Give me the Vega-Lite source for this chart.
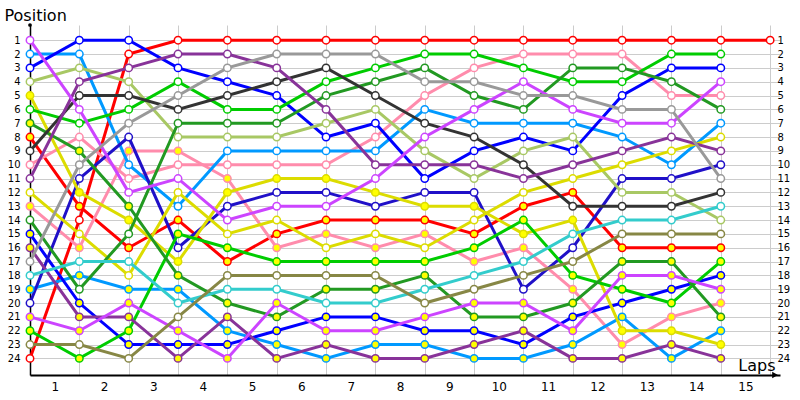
{
  "$schema": "https://vega.github.io/schema/vega-lite/v6.json",
  "width": 750,
  "height": 350,
  "autosize": {"type": "none"},
  "padding": {"left": 30, "top": 25, "right": 20, "bottom": 25},
  "background": "white",
  "config": {
    "view": {"stroke": null},
    "axis": {"labelFont": "DejaVu Sans", "titleFont": "DejaVu Sans", "labelColor": "black", "titleColor": "black", "titleFontWeight": "normal"}
  },
  "data": {
    "values": [
      {"driver":"red_w","lap":0,"pos":24},{"driver":"red_w","lap":1,"pos":14},{"driver":"red_w","lap":2,"pos":2},{"driver":"red_w","lap":3,"pos":1},{"driver":"red_w","lap":4,"pos":1},{"driver":"red_w","lap":5,"pos":1},{"driver":"red_w","lap":6,"pos":1},{"driver":"red_w","lap":7,"pos":1},{"driver":"red_w","lap":8,"pos":1},{"driver":"red_w","lap":9,"pos":1},{"driver":"red_w","lap":10,"pos":1},{"driver":"red_w","lap":11,"pos":1},{"driver":"red_w","lap":12,"pos":1},{"driver":"red_w","lap":13,"pos":1},{"driver":"red_w","lap":14,"pos":1},{"driver":"red_w","lap":15,"pos":1},
      {"driver":"red_y","lap":0,"pos":8},{"driver":"red_y","lap":1,"pos":13},{"driver":"red_y","lap":2,"pos":16},{"driver":"red_y","lap":3,"pos":14},{"driver":"red_y","lap":4,"pos":17},{"driver":"red_y","lap":5,"pos":15},{"driver":"red_y","lap":6,"pos":14},{"driver":"red_y","lap":7,"pos":14},{"driver":"red_y","lap":8,"pos":14},{"driver":"red_y","lap":9,"pos":15},{"driver":"red_y","lap":10,"pos":13},{"driver":"red_y","lap":11,"pos":12},{"driver":"red_y","lap":12,"pos":16},{"driver":"red_y","lap":13,"pos":16},{"driver":"red_y","lap":14,"pos":16},
      {"driver":"pink_w","lap":0,"pos":10},{"driver":"pink_w","lap":1,"pos":8},{"driver":"pink_w","lap":2,"pos":11},{"driver":"pink_w","lap":3,"pos":10},{"driver":"pink_w","lap":4,"pos":10},{"driver":"pink_w","lap":5,"pos":10},{"driver":"pink_w","lap":6,"pos":10},{"driver":"pink_w","lap":7,"pos":8},{"driver":"pink_w","lap":8,"pos":5},{"driver":"pink_w","lap":9,"pos":3},{"driver":"pink_w","lap":10,"pos":2},{"driver":"pink_w","lap":11,"pos":2},{"driver":"pink_w","lap":12,"pos":2},{"driver":"pink_w","lap":13,"pos":5},{"driver":"pink_w","lap":14,"pos":5},
      {"driver":"pink_y","lap":0,"pos":13},{"driver":"pink_y","lap":1,"pos":16},{"driver":"pink_y","lap":2,"pos":9},{"driver":"pink_y","lap":3,"pos":9},{"driver":"pink_y","lap":4,"pos":11},{"driver":"pink_y","lap":5,"pos":16},{"driver":"pink_y","lap":6,"pos":15},{"driver":"pink_y","lap":7,"pos":16},{"driver":"pink_y","lap":8,"pos":15},{"driver":"pink_y","lap":9,"pos":17},{"driver":"pink_y","lap":10,"pos":16},{"driver":"pink_y","lap":11,"pos":19},{"driver":"pink_y","lap":12,"pos":23},{"driver":"pink_y","lap":13,"pos":21},{"driver":"pink_y","lap":14,"pos":20},
      {"driver":"ltblue_w","lap":0,"pos":2},{"driver":"ltblue_w","lap":1,"pos":2},{"driver":"ltblue_w","lap":2,"pos":10},{"driver":"ltblue_w","lap":3,"pos":13},{"driver":"ltblue_w","lap":4,"pos":9},{"driver":"ltblue_w","lap":5,"pos":9},{"driver":"ltblue_w","lap":6,"pos":9},{"driver":"ltblue_w","lap":7,"pos":9},{"driver":"ltblue_w","lap":8,"pos":6},{"driver":"ltblue_w","lap":9,"pos":7},{"driver":"ltblue_w","lap":10,"pos":7},{"driver":"ltblue_w","lap":11,"pos":7},{"driver":"ltblue_w","lap":12,"pos":8},{"driver":"ltblue_w","lap":13,"pos":10},{"driver":"ltblue_w","lap":14,"pos":7},
      {"driver":"ltblue_y","lap":0,"pos":19},{"driver":"ltblue_y","lap":1,"pos":18},{"driver":"ltblue_y","lap":2,"pos":19},{"driver":"ltblue_y","lap":3,"pos":19},{"driver":"ltblue_y","lap":4,"pos":22},{"driver":"ltblue_y","lap":5,"pos":23},{"driver":"ltblue_y","lap":6,"pos":24},{"driver":"ltblue_y","lap":7,"pos":23},{"driver":"ltblue_y","lap":8,"pos":23},{"driver":"ltblue_y","lap":9,"pos":24},{"driver":"ltblue_y","lap":10,"pos":24},{"driver":"ltblue_y","lap":11,"pos":23},{"driver":"ltblue_y","lap":12,"pos":21},{"driver":"ltblue_y","lap":13,"pos":24},{"driver":"ltblue_y","lap":14,"pos":22},
      {"driver":"blue_w","lap":0,"pos":3},{"driver":"blue_w","lap":1,"pos":1},{"driver":"blue_w","lap":2,"pos":1},{"driver":"blue_w","lap":3,"pos":3},{"driver":"blue_w","lap":4,"pos":4},{"driver":"blue_w","lap":5,"pos":5},{"driver":"blue_w","lap":6,"pos":8},{"driver":"blue_w","lap":7,"pos":7},{"driver":"blue_w","lap":8,"pos":11},{"driver":"blue_w","lap":9,"pos":9},{"driver":"blue_w","lap":10,"pos":8},{"driver":"blue_w","lap":11,"pos":9},{"driver":"blue_w","lap":12,"pos":5},{"driver":"blue_w","lap":13,"pos":3},{"driver":"blue_w","lap":14,"pos":3},
      {"driver":"blue_y","lap":0,"pos":15},{"driver":"blue_y","lap":1,"pos":20},{"driver":"blue_y","lap":2,"pos":23},{"driver":"blue_y","lap":3,"pos":23},{"driver":"blue_y","lap":4,"pos":23},{"driver":"blue_y","lap":5,"pos":22},{"driver":"blue_y","lap":6,"pos":21},{"driver":"blue_y","lap":7,"pos":21},{"driver":"blue_y","lap":8,"pos":22},{"driver":"blue_y","lap":9,"pos":22},{"driver":"blue_y","lap":10,"pos":23},{"driver":"blue_y","lap":11,"pos":21},{"driver":"blue_y","lap":12,"pos":20},{"driver":"blue_y","lap":13,"pos":19},{"driver":"blue_y","lap":14,"pos":18},
      {"driver":"indigo","lap":0,"pos":20},{"driver":"indigo","lap":1,"pos":11},{"driver":"indigo","lap":2,"pos":8},{"driver":"indigo","lap":3,"pos":16},{"driver":"indigo","lap":4,"pos":13},{"driver":"indigo","lap":5,"pos":12},{"driver":"indigo","lap":6,"pos":12},{"driver":"indigo","lap":7,"pos":13},{"driver":"indigo","lap":8,"pos":12},{"driver":"indigo","lap":9,"pos":12},{"driver":"indigo","lap":10,"pos":19},{"driver":"indigo","lap":11,"pos":16},{"driver":"indigo","lap":12,"pos":11},{"driver":"indigo","lap":13,"pos":11},{"driver":"indigo","lap":14,"pos":10},
      {"driver":"ltgreen","lap":0,"pos":4},{"driver":"ltgreen","lap":1,"pos":3},{"driver":"ltgreen","lap":2,"pos":4},{"driver":"ltgreen","lap":3,"pos":8},{"driver":"ltgreen","lap":4,"pos":8},{"driver":"ltgreen","lap":5,"pos":8},{"driver":"ltgreen","lap":6,"pos":7},{"driver":"ltgreen","lap":7,"pos":6},{"driver":"ltgreen","lap":8,"pos":9},{"driver":"ltgreen","lap":9,"pos":11},{"driver":"ltgreen","lap":10,"pos":9},{"driver":"ltgreen","lap":11,"pos":8},{"driver":"ltgreen","lap":12,"pos":12},{"driver":"ltgreen","lap":13,"pos":12},{"driver":"ltgreen","lap":14,"pos":14},
      {"driver":"yellow_y","lap":0,"pos":5},{"driver":"yellow_y","lap":1,"pos":12},{"driver":"yellow_y","lap":2,"pos":14},{"driver":"yellow_y","lap":3,"pos":17},{"driver":"yellow_y","lap":4,"pos":12},{"driver":"yellow_y","lap":5,"pos":11},{"driver":"yellow_y","lap":6,"pos":11},{"driver":"yellow_y","lap":7,"pos":12},{"driver":"yellow_y","lap":8,"pos":13},{"driver":"yellow_y","lap":9,"pos":13},{"driver":"yellow_y","lap":10,"pos":15},{"driver":"yellow_y","lap":11,"pos":14},{"driver":"yellow_y","lap":12,"pos":22},{"driver":"yellow_y","lap":13,"pos":22},{"driver":"yellow_y","lap":14,"pos":23},
      {"driver":"yellow_w","lap":0,"pos":12},{"driver":"yellow_w","lap":1,"pos":15},{"driver":"yellow_w","lap":2,"pos":18},{"driver":"yellow_w","lap":3,"pos":12},{"driver":"yellow_w","lap":4,"pos":15},{"driver":"yellow_w","lap":5,"pos":14},{"driver":"yellow_w","lap":6,"pos":16},{"driver":"yellow_w","lap":7,"pos":15},{"driver":"yellow_w","lap":8,"pos":16},{"driver":"yellow_w","lap":9,"pos":14},{"driver":"yellow_w","lap":10,"pos":12},{"driver":"yellow_w","lap":11,"pos":11},{"driver":"yellow_w","lap":12,"pos":10},{"driver":"yellow_w","lap":13,"pos":9},{"driver":"yellow_w","lap":14,"pos":8},
      {"driver":"green_w","lap":0,"pos":6},{"driver":"green_w","lap":1,"pos":7},{"driver":"green_w","lap":2,"pos":6},{"driver":"green_w","lap":3,"pos":4},{"driver":"green_w","lap":4,"pos":6},{"driver":"green_w","lap":5,"pos":6},{"driver":"green_w","lap":6,"pos":4},{"driver":"green_w","lap":7,"pos":3},{"driver":"green_w","lap":8,"pos":2},{"driver":"green_w","lap":9,"pos":2},{"driver":"green_w","lap":10,"pos":3},{"driver":"green_w","lap":11,"pos":4},{"driver":"green_w","lap":12,"pos":4},{"driver":"green_w","lap":13,"pos":2},{"driver":"green_w","lap":14,"pos":2},
      {"driver":"green_y","lap":0,"pos":22},{"driver":"green_y","lap":1,"pos":24},{"driver":"green_y","lap":2,"pos":22},{"driver":"green_y","lap":3,"pos":15},{"driver":"green_y","lap":4,"pos":16},{"driver":"green_y","lap":5,"pos":17},{"driver":"green_y","lap":6,"pos":17},{"driver":"green_y","lap":7,"pos":17},{"driver":"green_y","lap":8,"pos":17},{"driver":"green_y","lap":9,"pos":16},{"driver":"green_y","lap":10,"pos":14},{"driver":"green_y","lap":11,"pos":18},{"driver":"green_y","lap":12,"pos":19},{"driver":"green_y","lap":13,"pos":20},{"driver":"green_y","lap":14,"pos":17},
      {"driver":"dkgreen_y","lap":0,"pos":7},{"driver":"dkgreen_y","lap":1,"pos":9},{"driver":"dkgreen_y","lap":2,"pos":13},{"driver":"dkgreen_y","lap":3,"pos":18},{"driver":"dkgreen_y","lap":4,"pos":20},{"driver":"dkgreen_y","lap":5,"pos":21},{"driver":"dkgreen_y","lap":6,"pos":19},{"driver":"dkgreen_y","lap":7,"pos":19},{"driver":"dkgreen_y","lap":8,"pos":18},{"driver":"dkgreen_y","lap":9,"pos":21},{"driver":"dkgreen_y","lap":10,"pos":21},{"driver":"dkgreen_y","lap":11,"pos":20},{"driver":"dkgreen_y","lap":12,"pos":17},{"driver":"dkgreen_y","lap":13,"pos":17},{"driver":"dkgreen_y","lap":14,"pos":21},
      {"driver":"dkgreen_w","lap":0,"pos":14},{"driver":"dkgreen_w","lap":1,"pos":19},{"driver":"dkgreen_w","lap":2,"pos":15},{"driver":"dkgreen_w","lap":3,"pos":7},{"driver":"dkgreen_w","lap":4,"pos":7},{"driver":"dkgreen_w","lap":5,"pos":7},{"driver":"dkgreen_w","lap":6,"pos":5},{"driver":"dkgreen_w","lap":7,"pos":4},{"driver":"dkgreen_w","lap":8,"pos":3},{"driver":"dkgreen_w","lap":9,"pos":5},{"driver":"dkgreen_w","lap":10,"pos":6},{"driver":"dkgreen_w","lap":11,"pos":3},{"driver":"dkgreen_w","lap":12,"pos":3},{"driver":"dkgreen_w","lap":13,"pos":4},{"driver":"dkgreen_w","lap":14,"pos":6},
      {"driver":"black","lap":0,"pos":9},{"driver":"black","lap":1,"pos":5},{"driver":"black","lap":2,"pos":5},{"driver":"black","lap":3,"pos":6},{"driver":"black","lap":4,"pos":5},{"driver":"black","lap":5,"pos":4},{"driver":"black","lap":6,"pos":3},{"driver":"black","lap":7,"pos":5},{"driver":"black","lap":8,"pos":7},{"driver":"black","lap":9,"pos":8},{"driver":"black","lap":10,"pos":10},{"driver":"black","lap":11,"pos":13},{"driver":"black","lap":12,"pos":13},{"driver":"black","lap":13,"pos":13},{"driver":"black","lap":14,"pos":12},
      {"driver":"purple_w","lap":0,"pos":11},{"driver":"purple_w","lap":1,"pos":4},{"driver":"purple_w","lap":2,"pos":3},{"driver":"purple_w","lap":3,"pos":2},{"driver":"purple_w","lap":4,"pos":2},{"driver":"purple_w","lap":5,"pos":3},{"driver":"purple_w","lap":6,"pos":6},{"driver":"purple_w","lap":7,"pos":10},{"driver":"purple_w","lap":8,"pos":10},{"driver":"purple_w","lap":9,"pos":10},{"driver":"purple_w","lap":10,"pos":11},{"driver":"purple_w","lap":11,"pos":10},{"driver":"purple_w","lap":12,"pos":9},{"driver":"purple_w","lap":13,"pos":8},{"driver":"purple_w","lap":14,"pos":9},
      {"driver":"purple_y","lap":0,"pos":16},{"driver":"purple_y","lap":1,"pos":21},{"driver":"purple_y","lap":2,"pos":21},{"driver":"purple_y","lap":3,"pos":24},{"driver":"purple_y","lap":4,"pos":21},{"driver":"purple_y","lap":5,"pos":24},{"driver":"purple_y","lap":6,"pos":23},{"driver":"purple_y","lap":7,"pos":24},{"driver":"purple_y","lap":8,"pos":24},{"driver":"purple_y","lap":9,"pos":23},{"driver":"purple_y","lap":10,"pos":22},{"driver":"purple_y","lap":11,"pos":24},{"driver":"purple_y","lap":12,"pos":24},{"driver":"purple_y","lap":13,"pos":23},{"driver":"purple_y","lap":14,"pos":24},
      {"driver":"violet_w","lap":0,"pos":1},{"driver":"violet_w","lap":1,"pos":6},{"driver":"violet_w","lap":2,"pos":12},{"driver":"violet_w","lap":3,"pos":11},{"driver":"violet_w","lap":4,"pos":14},{"driver":"violet_w","lap":5,"pos":13},{"driver":"violet_w","lap":6,"pos":13},{"driver":"violet_w","lap":7,"pos":11},{"driver":"violet_w","lap":8,"pos":8},{"driver":"violet_w","lap":9,"pos":6},{"driver":"violet_w","lap":10,"pos":4},{"driver":"violet_w","lap":11,"pos":6},{"driver":"violet_w","lap":12,"pos":7},{"driver":"violet_w","lap":13,"pos":7},{"driver":"violet_w","lap":14,"pos":4},
      {"driver":"violet_y","lap":0,"pos":21},{"driver":"violet_y","lap":1,"pos":22},{"driver":"violet_y","lap":2,"pos":20},{"driver":"violet_y","lap":3,"pos":22},{"driver":"violet_y","lap":4,"pos":24},{"driver":"violet_y","lap":5,"pos":20},{"driver":"violet_y","lap":6,"pos":22},{"driver":"violet_y","lap":7,"pos":22},{"driver":"violet_y","lap":8,"pos":21},{"driver":"violet_y","lap":9,"pos":20},{"driver":"violet_y","lap":10,"pos":20},{"driver":"violet_y","lap":11,"pos":22},{"driver":"violet_y","lap":12,"pos":18},{"driver":"violet_y","lap":13,"pos":18},{"driver":"violet_y","lap":14,"pos":19},
      {"driver":"gray","lap":0,"pos":17},{"driver":"gray","lap":1,"pos":10},{"driver":"gray","lap":2,"pos":7},{"driver":"gray","lap":3,"pos":5},{"driver":"gray","lap":4,"pos":3},{"driver":"gray","lap":5,"pos":2},{"driver":"gray","lap":6,"pos":2},{"driver":"gray","lap":7,"pos":2},{"driver":"gray","lap":8,"pos":4},{"driver":"gray","lap":9,"pos":4},{"driver":"gray","lap":10,"pos":5},{"driver":"gray","lap":11,"pos":5},{"driver":"gray","lap":12,"pos":6},{"driver":"gray","lap":13,"pos":6},{"driver":"gray","lap":14,"pos":11},
      {"driver":"cyan","lap":0,"pos":18},{"driver":"cyan","lap":1,"pos":17},{"driver":"cyan","lap":2,"pos":17},{"driver":"cyan","lap":3,"pos":20},{"driver":"cyan","lap":4,"pos":19},{"driver":"cyan","lap":5,"pos":19},{"driver":"cyan","lap":6,"pos":20},{"driver":"cyan","lap":7,"pos":20},{"driver":"cyan","lap":8,"pos":19},{"driver":"cyan","lap":9,"pos":18},{"driver":"cyan","lap":10,"pos":17},{"driver":"cyan","lap":11,"pos":15},{"driver":"cyan","lap":12,"pos":14},{"driver":"cyan","lap":13,"pos":14},{"driver":"cyan","lap":14,"pos":13},
      {"driver":"olive","lap":0,"pos":23},{"driver":"olive","lap":1,"pos":23},{"driver":"olive","lap":2,"pos":24},{"driver":"olive","lap":3,"pos":21},{"driver":"olive","lap":4,"pos":18},{"driver":"olive","lap":5,"pos":18},{"driver":"olive","lap":6,"pos":18},{"driver":"olive","lap":7,"pos":18},{"driver":"olive","lap":8,"pos":20},{"driver":"olive","lap":9,"pos":19},{"driver":"olive","lap":10,"pos":18},{"driver":"olive","lap":11,"pos":17},{"driver":"olive","lap":12,"pos":15},{"driver":"olive","lap":13,"pos":15},{"driver":"olive","lap":14,"pos":15}
    ]
  },
  "layer": [
    {
      "mark": {"type": "line", "strokeWidth": 3},
      "encoding": {
        "x": {
          "field": "lap", "type": "quantitative",
          "scale": {"domain": [0, 15.2], "nice": false, "zero": false},
          "axis": {
            "values": [0, 1, 2, 3, 4, 5, 6, 7, 8, 9, 10, 11, 12, 13, 14, 15],
            "grid": true, "gridColor": "#cccccc", "gridWidth": 1,
            "ticks": false, "domainColor": "black", "domainWidth": 2,
            "labelExpr": "datum.value < 15 ? '' + (datum.value + 1) : ''",
            "labelOffset": 24.7, "labelPadding": 6, "labelFontSize": 12, "labelOverlap": false, "labelFlush": false,
            "title": "Laps", "titleFontSize": 16, "titleAlign": "right", "titleBaseline": "alphabetic",
            "titleX": 745, "titleY": -5
          }
        },
        "y": {
          "field": "pos", "type": "quantitative",
          "scale": {"domain": [-0.1, 25.2], "reverse": true, "nice": false, "zero": false},
          "axis": {
            "values": [1, 2, 3, 4, 5, 6, 7, 8, 9, 10, 11, 12, 13, 14, 15, 16, 17, 18, 19, 20, 21, 22, 23, 24],
            "grid": true, "gridColor": "#cccccc", "gridWidth": 1,
            "ticks": false, "domainColor": "black", "domainWidth": 1.5,
            "labelPadding": 10, "labelFontSize": 10, "labelOverlap": false, "labelFlush": false,
            "title": "Position", "titleFontSize": 16, "titleAngle": 0, "titleAlign": "left", "titleBaseline": "alphabetic",
            "titleX": -26, "titleY": -5
          }
        },
        "color": {
          "field": "driver", "type": "nominal", "legend": null,
          "scale": {
            "domain": ["red_w","red_y","pink_w","pink_y","ltblue_w","ltblue_y","blue_w","blue_y","indigo","ltgreen","yellow_w","yellow_y","green_w","green_y","dkgreen_w","dkgreen_y","black","purple_w","purple_y","violet_w","violet_y","gray","cyan","olive"],
            "range": ["#ff0000","#ff0000","#ff8cac","#ff8cac","#0099ff","#0099ff","#0000ff","#0000ff","#2010c8","#a8c864","#dcdc00","#dcdc00","#00cc00","#00cc00","#229922","#229922","#333333","#883399","#883399","#cc44ff","#cc44ff","#999999","#33cccc","#878745"]
          }
        }
      }
    },
    {
      "mark": {"type": "circle", "size": 55, "strokeWidth": 1.5, "opacity": 1},
      "encoding": {
        "x": {"field": "lap", "type": "quantitative", "axis": null},
        "y": {
          "field": "pos", "type": "quantitative",
          "axis": {
            "orient": "right", "offset": -4,
            "values": [1, 2, 3, 4, 5, 6, 7, 8, 9, 10, 11, 12, 13, 14, 15, 16, 17, 18, 19, 20, 21, 22, 23, 24],
            "grid": false, "ticks": false, "domain": false,
            "labelPadding": 1, "labelFontSize": 10, "labelOverlap": false, "labelFlush": false,
            "title": null
          }
        },
        "stroke": {
          "field": "driver", "type": "nominal", "legend": null,
          "scale": {
            "domain": ["red_w","red_y","pink_w","pink_y","ltblue_w","ltblue_y","blue_w","blue_y","indigo","ltgreen","yellow_w","yellow_y","green_w","green_y","dkgreen_w","dkgreen_y","black","purple_w","purple_y","violet_w","violet_y","gray","cyan","olive"],
            "range": ["#ff0000","#ff0000","#ff8cac","#ff8cac","#0099ff","#0099ff","#0000ff","#0000ff","#2010c8","#a8c864","#dcdc00","#dcdc00","#00cc00","#00cc00","#229922","#229922","#333333","#883399","#883399","#cc44ff","#cc44ff","#999999","#33cccc","#878745"]
          }
        },
        "fill": {
          "field": "driver", "type": "nominal", "legend": null,
          "scale": {
            "domain": ["red_w","red_y","pink_w","pink_y","ltblue_w","ltblue_y","blue_w","blue_y","indigo","ltgreen","yellow_w","yellow_y","green_w","green_y","dkgreen_w","dkgreen_y","black","purple_w","purple_y","violet_w","violet_y","gray","cyan","olive"],
            "range": ["#ffffff","#ffff00","#ffffff","#ffff00","#ffffff","#ffff00","#ffffff","#ffff00","#ffffff","#ffffff","#ffffff","#ffff00","#ffffff","#ffff00","#ffffff","#ffff00","#ffffff","#ffffff","#ffff00","#ffffff","#ffff00","#ffffff","#ffffff","#ffffff"]
          }
        }
      }
    },
    {
      "data": {"values": [{}]},
      "mark": {"type": "point", "shape": "triangle-right", "filled": true, "color": "black", "size": 45, "opacity": 1},
      "encoding": {
        "x": {"datum": 15.1, "type": "quantitative", "axis": null},
        "y": {"datum": 25.2, "type": "quantitative", "axis": null}
      }
    },
    {
      "data": {"values": [{}]},
      "mark": {"type": "circle", "color": "black", "size": 14, "opacity": 1},
      "encoding": {
        "x": {"datum": 0, "type": "quantitative", "axis": null},
        "y": {"datum": -0.1, "type": "quantitative", "axis": null}
      }
    }
  ],
  "resolve": {"axis": {"x": "independent", "y": "independent"}}
}
